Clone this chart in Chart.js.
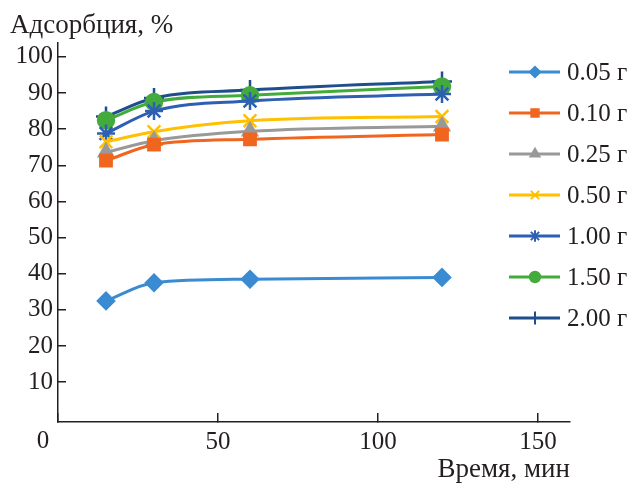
<!DOCTYPE html>
<html>
<head>
<meta charset="utf-8">
<script src="https://cdn.jsdelivr.net/npm/chart.js@4/dist/chart.umd.min.js"></script>
<style>
  body { margin: 0; background: #fff; }
  #wrap { width: 632px; height: 484px; position: relative; }
</style>
</head>
<body>
<div id="wrap"><canvas id="adsChart"></canvas></div>
<script>
// time points, min
const times = [15, 30, 60, 120];
// sorbent mass labels
const masses = ['0.05 г', '0.10 г', '0.25 г', '0.50 г', '1.00 г', '1.50 г', '2.00 г'];
// adsorption, %
const ads005 = [32.5, 37.5, 38.5, 39.0];
const ads010 = [71.3, 75.7, 77.2, 78.5];
const ads025 = [73.6, 76.8, 79.4, 80.8];
const ads050 = [76.5, 79.3, 82.3, 83.5];
const ads100 = [78.8, 85.0, 87.8, 89.7];
const ads150 = [82.5, 87.5, 89.4, 91.8];
const ads200 = [83.5, 88.6, 90.8, 93.2];
// axis ticks
const xTicks = [0, 50, 100, 150];
const yTicks = [10, 20, 30, 40, 50, 60, 70, 80, 90, 100];

const ink = '#231f20';
const serif = '"Liberation Serif", "Times New Roman", serif';

const series = [ads005, ads010, ads025, ads050, ads100, ads150, ads200];
const colors = ['#3a8bd2', '#f0661f', '#999999', '#ffc000', '#2d5fb2', '#43ab3c', '#1f4e8d'];
const styles = ['rectRot', 'rect', 'triangle', 'crossRot', 'star', 'circle', 'cross'];
const radii = [8, 8, 8, 9, 9, 8, 10];

const datasets = series.map(function (vals, i) {
    return {
        label: masses[i],
        data: vals.map(function (v, j) { return { x: times[j], y: v }; }),
        borderColor: colors[i],
        backgroundColor: colors[i],
        borderWidth: 3,
        pointStyle: styles[i],
        pointRadius: radii[i],
        pointBorderWidth: 2.5,
        pointBackgroundColor: colors[i],
        pointBorderColor: colors[i],
        cubicInterpolationMode: 'monotone'
    };
});

// legend drawn over the right part of the plot, like the original
const sideLegend = {
    id: 'sideLegend',
    afterDraw(chart) {
        const ctx = chart.ctx;
        chart.data.datasets.forEach(function (ds, i) {
            const y = 72 + i * 41;
            ctx.save();
            ctx.strokeStyle = ds.borderColor;
            ctx.fillStyle = ds.borderColor;
            ctx.lineWidth = 3;
            ctx.beginPath();
            ctx.moveTo(509, y);
            ctx.lineTo(560, y);
            ctx.stroke();
            ctx.lineWidth = 2;
            if (Chart.helpers && Chart.helpers.drawPoint) {
                Chart.helpers.drawPoint(ctx, { pointStyle: ds.pointStyle, radius: ds.pointRadius * 0.65, borderWidth: 2, rotation: 0 }, 535, y);
            }
            ctx.fillStyle = ink;
            ctx.font = '25px ' + serif;
            ctx.textBaseline = 'middle';
            ctx.textAlign = 'left';
            ctx.fillText(ds.label, 567, y + 1);
            ctx.restore();
        });
        // the "0" of the time axis sits left of the corner
        ctx.save();
        ctx.fillStyle = ink;
        ctx.font = '25px ' + serif;
        ctx.textAlign = 'center';
        ctx.textBaseline = 'middle';
        ctx.fillText('0', 43, 441);
        ctx.restore();
    }
};

const ctx = document.getElementById('adsChart').getContext('2d');
const myChart = new Chart(ctx, {
    type: 'line',
    data: { datasets: datasets },
    options: {
        responsive: true,
        maintainAspectRatio: false,
        animation: false,
        layout: { padding: { left: 10, right: 62, top: 0, bottom: 0 } },
        plugins: {
            legend: { display: false },
            tooltip: { enabled: false },
            title: {
                display: true,
                text: 'Адсорбция, %',
                align: 'start',
                color: ink,
                font: { family: serif, size: 27, weight: 'normal' },
                padding: { top: 10, bottom: 0 }
            }
        },
        scales: {
            x: {
                type: 'linear',
                min: 0,
                max: 160,
                afterBuildTicks: function (s) { s.ticks = xTicks.map(function (v) { return { value: v }; }); },
                afterFit: function (s) { s.height = 62; },
                grid: { drawOnChartArea: false, tickLength: -9, color: ink, lineWidth: 1.5 },
                border: { color: ink, width: 1.5 },
                ticks: {
                    color: ink,
                    padding: 14,
                    maxRotation: 0,
                    font: { family: serif, size: 25 },
                    callback: function (v) { return v === 0 ? '' : v; }
                },
                title: {
                    display: true,
                    text: 'Время, мин',
                    align: 'end',
                    color: ink,
                    font: { family: serif, size: 27 },
                    padding: { top: -4, bottom: -2 }
                }
            },
            y: {
                min: -1,
                max: 104,
                afterBuildTicks: function (s) { s.ticks = yTicks.map(function (v) { return { value: v }; }); },
                afterFit: function (s) { s.width = 48; },
                grid: { drawOnChartArea: false, tickLength: -8, color: ink, lineWidth: 1.5 },
                border: { color: ink, width: 1.5 },
                ticks: {
                    color: ink,
                    padding: 13,
                    font: { family: serif, size: 25 }
                }
            }
        }
    },
    plugins: [sideLegend]
});
myChart.update();
</script>
</body>
</html>
